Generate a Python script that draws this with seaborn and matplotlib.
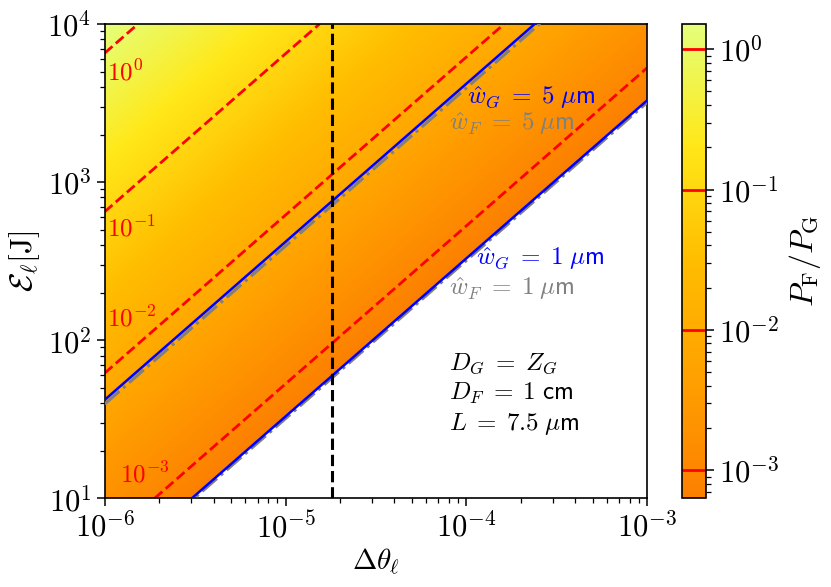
import numpy as np
import matplotlib
matplotlib.use("Agg")
import matplotlib.pyplot as plt
from matplotlib.colors import LogNorm
from matplotlib.ticker import FuncFormatter
import seaborn as sns

# contour levels of P_F/P_G and the E/dtheta ratio where each one sits
levels = [1e-3, 1e-2, 1e-1, 1e0]
ratio_pts = [3.3e6, 5.3e6, 6.2e7, 6.5e8, 6.55e9, 1e10]
p_pts = [6.3e-4, 1e-3, 1e-2, 1e-1, 1e0, 1.51]

# beam-waist lines, E = ratio * dtheta
w_G_ratio = [4.2e7, 3.3e6]
w_F_ratio = [3.95e7, 3.2e6]

dtheta_mark = 1.8e-5
level_names = [r"$10^{0}$", r"$10^{-1}$", r"$10^{-2}$", r"$10^{-3}$"]
level_text_pos = [(1.03e-6, 4960), (1.03e-6, 508), (1.03e-6, 137), (1.21e-6, 14.2)]

sns.set_style("ticks")
plt.rcParams["font.family"] = ["DejaVu Sans"]
plt.rcParams["mathtext.fontset"] = "cm"
plt.rcParams["axes.linewidth"] = 1.2
for k in ["text.color", "axes.labelcolor", "axes.edgecolor", "xtick.color", "ytick.color"]:
    plt.rcParams[k] = "black"

def pow10(v, pos):
    return r"$10^{%d}$" % int(round(np.log10(v)))

fig = plt.figure(figsize=(8.31, 5.87), dpi=100)
ax = fig.add_axes([0.126, 0.151, 0.653, 0.808])
cax = fig.add_axes([0.821, 0.151, 0.028, 0.808])

# field on a log grid
x = np.logspace(-6, -3, 500)
y = np.logspace(1, 4, 500)
X, Y = np.meshgrid(x, y)
r = Y / X
logp = np.interp(np.log10(r), np.log10(ratio_pts), np.log10(p_pts))
P = np.ma.masked_where(r < w_G_ratio[1], 10 ** logp)

norm = LogNorm(vmin=6.3e-4, vmax=1.51)
mesh = ax.pcolormesh(X, Y, P, cmap="Wistia_r", norm=norm, shading="auto", rasterized=True)
cs = ax.contour(X, Y, P, levels=levels, colors="red", linestyles="--", linewidths=2)

ax.set_xscale("log")
ax.set_yscale("log")

xs = np.array([1e-6, 1e-3])
for wr in w_G_ratio:
    sns.lineplot(x=xs, y=wr * xs, ax=ax, color="blue", lw=1.8, zorder=4)
for wr in w_F_ratio:
    sns.lineplot(x=xs, y=wr * xs, ax=ax, color="gray", lw=2.2, ls="-.", zorder=3)

ax.axvline(dtheta_mark, color="black", ls="--", lw=2.2, zorder=5)

ax.set_xlim(1e-6, 1e-3)
ax.set_ylim(1e1, 1e4)
ax.xaxis.set_major_formatter(FuncFormatter(pow10))
ax.yaxis.set_major_formatter(FuncFormatter(pow10))

for name, (tx, ty) in zip(level_names, level_text_pos):
    ax.text(tx, ty, name, color="red", fontsize=18, ha="left", va="center")

ax.text(1.01e-4, 3440, r"$\hat{w}_G\;=\;\mathsf{5}\;\mu\mathsf{m}$", color="blue", fontsize=18, ha="left", va="center")
ax.text(8.0e-5, 2357, r"$\hat{w}_F\;=\;\mathsf{5}\;\mu\mathsf{m}$", color="gray", fontsize=18, ha="left", va="center")
ax.text(1.13e-4, 328, r"$\hat{w}_G\;=\;\mathsf{1}\;\mu\mathsf{m}$", color="blue", fontsize=18, ha="left", va="center")
ax.text(8.0e-5, 212, r"$\hat{w}_F\;=\;\mathsf{1}\;\mu\mathsf{m}$", color="gray", fontsize=18, ha="left", va="center")

ax.text(8.0e-5, 70.8, r"$D_G\;=\;Z_G$", fontsize=18, ha="left", va="center")
ax.text(8.0e-5, 46.4, r"$D_F\;=\;\mathsf{1\ cm}$", fontsize=18, ha="left", va="center")
ax.text(8.0e-5, 29.5, r"$L\;=\;\mathsf{7.5}\;\mu\mathsf{m}$", fontsize=18, ha="left", va="center")

ax.set_xlabel(r"$\Delta\theta_\ell$", fontsize=21, labelpad=2)
ax.set_ylabel(r"$\mathcal{E}_\ell[\mathrm{J}]$", fontsize=23, labelpad=4)
ax.tick_params(which="major", labelsize=22, length=6, width=1.1)
ax.tick_params(which="minor", length=3.5, width=0.9)

cbar = fig.colorbar(mesh, cax=cax)
cbar.add_lines(cs)
cbar.ax.yaxis.set_major_formatter(FuncFormatter(pow10))
cbar.set_label(r"$P_\mathrm{F}/P_\mathrm{G}$", fontsize=23, labelpad=6)
cbar.ax.tick_params(which="major", labelsize=22, length=6, width=1.1)
cbar.ax.tick_params(which="minor", length=3.5, width=0.9)
cbar.outline.set_linewidth(1.2)

fig.savefig("out.png", dpi=100)
